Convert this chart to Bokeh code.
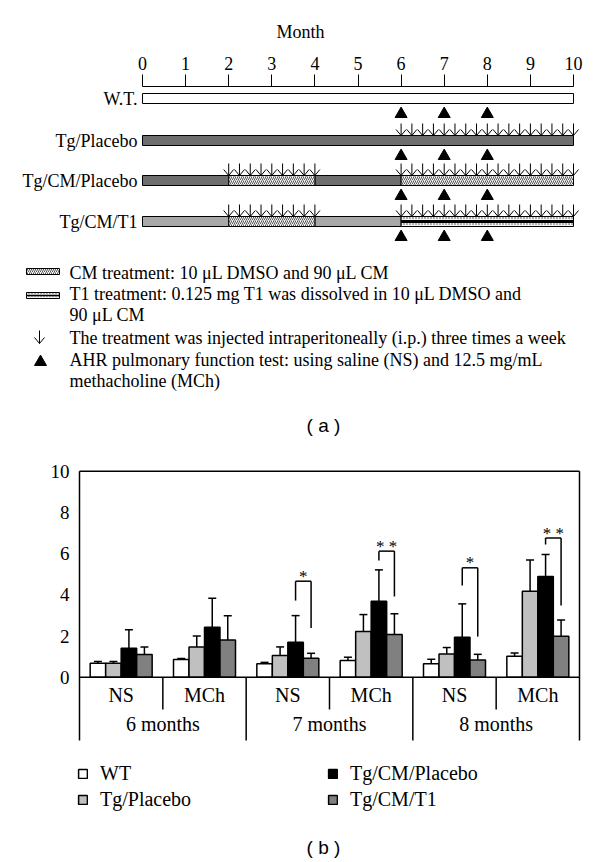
from math import pi
from bokeh.plotting import figure
from bokeh.models import (Range1d, FactorRange, LinearAxis, FixedTicker, ColumnDataSource,
                          Whisker, TeeHead, Legend, LegendItem, Label)
from bokeh.transform import dodge
from bokeh.layouts import column
from bokeh.core.properties import value
from bokeh.embed import file_html
from bokeh.resources import INLINE

SERIF = "Liberation Serif"
SANS = "Liberation Sans"

# ---------------- data: panel (a) timeline ----------------
month_ticks = [0, 1, 2, 3, 4, 5, 6, 7, 8, 9, 10]
timeline_rows = ["W.T.", "Tg/Placebo", "Tg/CM/Placebo", "Tg/CM/T1"]
seg_row = ["W.T.", "Tg/Placebo",
           "Tg/CM/Placebo", "Tg/CM/Placebo", "Tg/CM/Placebo", "Tg/CM/Placebo",
           "Tg/CM/T1", "Tg/CM/T1", "Tg/CM/T1", "Tg/CM/T1"]
seg_start = [0, 0, 0, 2, 4, 6, 0, 2, 4, 6]
seg_end = [10, 10, 2, 4, 6, 10, 2, 4, 6, 10]
seg_kind = ["WT", "Tg", "Tg", "CM", "Tg", "CM", "TgCM", "CM", "TgCM", "T1"]
inj_2_4 = [2.0, 2.25, 2.5, 2.75, 3.0, 3.25, 3.5, 3.75, 4.0]
inj_6_10 = [6.0, 6.25, 6.5, 6.75, 7.0, 7.25, 7.5, 7.75, 8.0,
            8.25, 8.5, 8.75, 9.0, 9.25, 9.5, 9.75, 10.0]
inj_row = ["Tg/Placebo", "Tg/CM/Placebo", "Tg/CM/Placebo", "Tg/CM/T1", "Tg/CM/T1"]
inj_months = [inj_6_10, inj_2_4, inj_6_10, inj_2_4, inj_6_10]
test_months = [6, 7, 8]
legend_a_lines = [
    "CM treatment: 10 \u03bcL DMSO and 90 \u03bcL CM",
    "T1 treatment: 0.125 mg T1 was dissolved in 10 \u03bcL DMSO and",
    "90 \u03bcL CM",
    "The treatment was injected intraperitoneally (i.p.) three times a week",
    "AHR pulmonary function test: using saline (NS) and 12.5 mg/mL",
    "methacholine (MCh)",
]

# ---------------- data: panel (b) bar chart ----------------
months = ["6 months", "7 months", "8 months"]
tests = ["NS", "MCh"]
groups = ["WT", "Tg/Placebo", "Tg/CM/Placebo", "Tg/CM/T1"]
wt_mean = [0.68, 0.86, 0.65, 0.81, 0.65, 1.02]
wt_err = [0.08, 0.05, 0.07, 0.16, 0.22, 0.16]
tgp_mean = [0.68, 1.47, 1.05, 2.22, 1.13, 4.17]
tgp_err = [0.08, 0.53, 0.42, 0.82, 0.31, 1.52]
tgcmp_mean = [1.41, 2.43, 1.70, 3.69, 1.94, 4.89]
tgcmp_err = [0.89, 1.40, 1.29, 1.52, 1.62, 1.07]
t1_mean = [1.10, 1.81, 0.92, 2.07, 0.84, 1.99]
t1_err = [0.37, 1.17, 0.24, 1.01, 0.27, 0.79]
y_ticks = [0, 2, 4, 6, 8, 10]
sig_month = ["7 months", "7 months", "8 months", "8 months"]
sig_test = ["NS", "MCh", "NS", "MCh"]
sig_left_bottom = [3.72, 5.66, 4.45, 6.44]
sig_top = [4.66, 6.12, 5.31, 6.76]
sig_right_bottom = [2.39, 3.92, 1.97, 3.48]
sig_label = ["*", "* *", "*", "* *"]
sig_label_y = [5.02, 6.50, 5.70, 7.12]

# ---------------- layout constants (page pixels) ----------------
PAGE_W = 600
A_TOP, A_H = 0, 438
A_FRAME_TOP = 86
PX_M0, PX_M10 = 142.0, 573.0
KX = (PX_M10 - PX_M0) / 10.0


def mx(px):
    return (px - PX_M0) / KX


row_top_px = dict(zip(timeline_rows, [93, 135, 175, 216]))
BAR_H = 10
ARROW_LEN = 12
HW, HH = 5.0 / KX, 6.0

pa = figure(width=PAGE_W, height=A_H, title=None,
            x_range=Range1d(mx(0), mx(PAGE_W)),
            y_range=Range1d(A_TOP + A_H, A_FRAME_TOP),
            x_axis_location=None, y_axis_location=None,
            min_border_left=0, min_border_right=0,
            min_border_top=A_FRAME_TOP - A_TOP, min_border_bottom=0,
            frame_align=False,
            output_backend="svg", toolbar_location=None)
pa.outline_line_color = None
pa.grid.visible = False
pa.background_fill_color = "white"
pa.border_fill_color = "white"

max_ = LinearAxis(bounds=(0, 10), ticker=FixedTicker(ticks=month_ticks), axis_label="Month")
max_.minor_tick_line_color = None
max_.major_tick_in = 0
max_.major_tick_out = 12
max_.major_label_standoff = 5
max_.axis_line_color = "black"
max_.major_tick_line_color = "black"
max_.major_label_text_font = SERIF
max_.major_label_text_font_size = "18px"
max_.major_label_text_color = "black"
max_.axis_label_text_font = SERIF
max_.axis_label_text_font_size = "18px"
max_.axis_label_text_font_style = "normal"
max_.axis_label_text_color = "black"
max_.axis_label_standoff = 12
pa.add_layout(max_, "above")

hatch_style = dict(fill_color="#f2f2f2", hatch_pattern="right_diagonal_line",
                   hatch_color="#5a5a5a", hatch_scale=4, hatch_weight=1)
t1_style = dict(fill_color="#f2f2f2", hatch_pattern="dot", hatch_color="#444444",
                hatch_scale=3, hatch_weight=1)
kind_style = {
    "WT": dict(fill_color="white"),
    "Tg": dict(fill_color="#6e6e6e"),
    "TgCM": dict(fill_color="#a8a8a8"),
    "CM": hatch_style,
    "T1": t1_style,
}
for kind, style in kind_style.items():
    idx = [i for i, k in enumerate(seg_kind) if k == kind]
    src = ColumnDataSource(dict(
        left=[seg_start[i] for i in idx], right=[seg_end[i] for i in idx],
        top=[row_top_px[seg_row[i]] for i in idx],
        bottom=[row_top_px[seg_row[i]] + BAR_H for i in idx]))
    pa.quad(left="left", right="right", top="top", bottom="bottom", source=src,
            line_color="black", line_width=1, **style)
    if kind == "T1":
        stripe = ColumnDataSource(dict(
            left=[seg_start[i] for i in idx], right=[seg_end[i] for i in idx],
            top=[row_top_px[seg_row[i]] + 3.5 for i in idx],
            bottom=[row_top_px[seg_row[i]] + 6.5 for i in idx]))
        pa.quad(left="left", right="right", top="top", bottom="bottom", source=stripe,
                fill_color="black", line_color=None)

# injection arrows
arr_x, arr_tip = [], []
for r, ms in zip(inj_row, inj_months):
    for m in ms:
        arr_x.append(m)
        arr_tip.append(row_top_px[r])


def draw_arrows(p, xs, tips, length):
    p.segment(x0=xs, y0=[t - length for t in tips], x1=xs, y1=tips, line_color="black", line_width=1)
    p.segment(x0=[x - HW for x in xs], y0=[t - HH for t in tips], x1=xs, y1=tips,
              line_color="black", line_width=1)
    p.segment(x0=[x + HW for x in xs], y0=[t - HH for t in tips], x1=xs, y1=tips,
              line_color="black", line_width=1)


draw_arrows(pa, arr_x, arr_tip, ARROW_LEN)

# AHR test triangles
TRI = 12
tri_off = TRI * 0.866 / 3.0
tri_x, tri_y = [], []
for r in timeline_rows:
    for m in test_months:
        tri_x.append(m)
        tri_y.append(row_top_px[r] + BAR_H + 14 - tri_off)
pa.scatter(x=tri_x, y=tri_y, marker="triangle", size=TRI, fill_color="black", line_color="black")

# row labels
pa.text(x=[0] * len(timeline_rows), y=[row_top_px[r] + BAR_H / 2 for r in timeline_rows],
        text=timeline_rows, x_offset=-5, text_align="right", text_baseline="middle",
        text_font=value(SERIF), text_font_size="18px", text_color="black")

# legend of panel (a)
sw_l, sw_r = mx(26), mx(59)
pa.quad(left=[sw_l], right=[sw_r], top=[268], bottom=[274], line_color="black", line_width=1, **hatch_style)
pa.quad(left=[sw_l], right=[sw_r], top=[292], bottom=[298], line_color="black", line_width=1, **t1_style)
pa.quad(left=[sw_l], right=[sw_r], top=[294.2], bottom=[295.8], fill_color="black", line_color=None)
draw_arrows(pa, [mx(39)], [343], 13)
pa.scatter(x=[mx(40)], y=[365 - tri_off], marker="triangle", size=TRI, fill_color="black", line_color="black")
pa.text(x=[mx(69)] * len(legend_a_lines), y=[272, 293, 314, 337, 359, 380], text=legend_a_lines,
        text_align="left", text_baseline="middle", text_font=value(SERIF), text_font_size="18px",
        text_color="black")
pa.text(x=[mx(323)], y=[425], text=["( a )"], text_align="center", text_baseline="middle",
        text_font=value(SANS), text_font_size="19px", text_color="black")

# ---------------- panel (b) ----------------
B_TOP = A_TOP + A_H
B_H = 422
B_FRAME_TOP = 468
PY0, PY10 = 676.7, 470.7
KY = (PY0 - PY10) / 10.0


def vy(py):
    return (PY0 - py) / KY


PX_LEFT, PX_RIGHT = 79.0, 579.0
FRAME_LEFT, FRAME_RIGHT = 76.0, 582.0
factors = [(m, t) for m in months for t in tests]
KXB = (PX_RIGHT - PX_LEFT) / len(factors)
pad = (PX_LEFT - FRAME_LEFT) / KXB

xr = FactorRange(*factors, factor_padding=0, subgroup_padding=0, group_padding=0,
                 range_padding=pad, range_padding_units="absolute")
pb = figure(width=PAGE_W, height=B_H, title=None, x_range=xr,
            y_range=Range1d(vy(B_TOP + B_H), vy(B_FRAME_TOP)),
            x_axis_location=None, y_axis_location="left",
            min_border_left=int(FRAME_LEFT), min_border_right=int(PAGE_W - FRAME_RIGHT),
            min_border_top=B_FRAME_TOP - B_TOP, min_border_bottom=0,
            frame_align=False,
            output_backend="svg", toolbar_location=None)
pb.outline_line_color = None
pb.grid.visible = False
pb.background_fill_color = "white"
pb.border_fill_color = "white"

yax = pb.yaxis[0]
yax.ticker = FixedTicker(ticks=y_ticks)
yax.bounds = (0, 10)
yax.axis_line_color = None
yax.major_tick_line_color = None
yax.minor_tick_line_color = None
yax.major_tick_in = 0
yax.major_tick_out = 0
yax.major_label_standoff = 7
yax.major_label_text_font = SERIF
yax.major_label_text_font_size = "19px"
yax.major_label_text_color = "black"

BW = 15.5 / KXB
offsets = [(i - 1.5) * BW for i in range(len(groups))]
means = [wt_mean, tgp_mean, tgcmp_mean, t1_mean]
errs = [wt_err, tgp_err, tgcmp_err, t1_err]
colors = ["white", "#c0c0c0", "black", "#808080"]

data = dict(cat=factors)
for i in range(len(groups)):
    data[f"m{i}"] = means[i]
    data[f"lo{i}"] = [m - e for m, e in zip(means[i], errs[i])]
    data[f"hi{i}"] = [m + e for m, e in zip(means[i], errs[i])]
bsrc = ColumnDataSource(data)

bar_renderers = []
for i in range(len(groups)):
    r = pb.vbar(x=dodge("cat", offsets[i], range=pb.x_range), top=f"m{i}", bottom=0, width=BW,
                source=bsrc, fill_color=colors[i], line_color="black", line_width=1.5)
    bar_renderers.append(r)
for i in range(len(groups)):
    w = Whisker(base=dodge("cat", offsets[i], range=pb.x_range), upper=f"hi{i}", lower=f"lo{i}",
                source=bsrc, line_color="black", line_width=1.5,
                upper_head=TeeHead(size=8, line_color="black", line_width=1.5),
                lower_head=TeeHead(size=8, line_color="black", line_width=1.5))
    pb.add_layout(w)

# significance brackets
ssrc = ColumnDataSource(dict(cat=list(zip(sig_month, sig_test)), lb=sig_left_bottom, top=sig_top,
                             rb=sig_right_bottom, lab=sig_label, ly=sig_label_y))
xl = dodge("cat", offsets[2], range=pb.x_range)
xrr = dodge("cat", offsets[3], range=pb.x_range)
xm = dodge("cat", (offsets[2] + offsets[3]) / 2, range=pb.x_range)
pb.segment(x0=xl, y0="lb", x1=xl, y1="top", source=ssrc, line_color="black", line_width=1.5)
pb.segment(x0=xl, y0="top", x1=xrr, y1="top", source=ssrc, line_color="black", line_width=1.5)
pb.segment(x0=xrr, y0="top", x1=xrr, y1="rb", source=ssrc, line_color="black", line_width=1.5)
pb.text(x=xm, y="ly", text="lab", source=ssrc, y_offset=3, text_align="center", text_baseline="middle",
        text_font=value(SERIF), text_font_size="17px", text_color="black")

# frame and category separators (synthetic category coordinates)
n = len(factors)
long_bottom = vy(740)
short_bottom = vy(709)
pb.segment(x0=[0, n], y0=[long_bottom, long_bottom], x1=[0, n], y1=[10, 10], line_color="black", line_width=1.5)
pb.segment(x0=[0, 0], y0=[10, 0], x1=[n, n], y1=[10, 0], line_color="black", line_width=1.5)
pb.segment(x0=[2, 4], y0=[0, 0], x1=[2, 4], y1=[long_bottom] * 2, line_color="black", line_width=1.5)
pb.segment(x0=[1, 3, 5], y0=[0, 0, 0], x1=[1, 3, 5], y1=[short_bottom] * 3, line_color="black", line_width=1.5)

# category labels
pb.text(x=factors, y=[vy(694)] * n, text=[f[1] for f in factors], text_align="center",
        text_baseline="middle", text_font=value(SERIF), text_font_size="20px", text_color="black")
pb.text(x=months, y=[vy(723)] * len(months), text=months, text_align="center",
        text_baseline="middle", text_font=value(SERIF), text_font_size="20px", text_color="black")

pb.add_layout(Label(x=(30 - PX_LEFT) / KXB, y=5, text="Penh", angle=pi / 2, text_font=SERIF,
                    text_font_size="20px", text_align="center", text_baseline="middle",
                    text_color="black"))

legend_kw = dict(label_text_font=SERIF, label_text_font_size="20px", label_text_color="black",
                 glyph_width=11, glyph_height=11, label_standoff=12, spacing=3, padding=0, margin=0,
                 label_height=20, border_line_color=None, background_fill_alpha=0)
leg1 = Legend(items=[LegendItem(label=groups[0], renderers=[bar_renderers[0]]),
                     LegendItem(label=groups[1], renderers=[bar_renderers[1]])],
              location=(1, 49), **legend_kw)
leg2 = Legend(items=[LegendItem(label=groups[2], renderers=[bar_renderers[2]]),
                     LegendItem(label=groups[3], renderers=[bar_renderers[3]])],
              location=(251, 49), **legend_kw)
pb.add_layout(leg1, "center")
pb.add_layout(leg2, "center")

pb.text(x=[(323 - PX_LEFT) / KXB], y=[vy(847)], text=["( b )"], text_align="center",
        text_baseline="middle", text_font=value(SANS), text_font_size="19px", text_color="black")

layout = column(pa, pb, spacing=0)
open("out.html", "w").write(file_html(layout, INLINE))
